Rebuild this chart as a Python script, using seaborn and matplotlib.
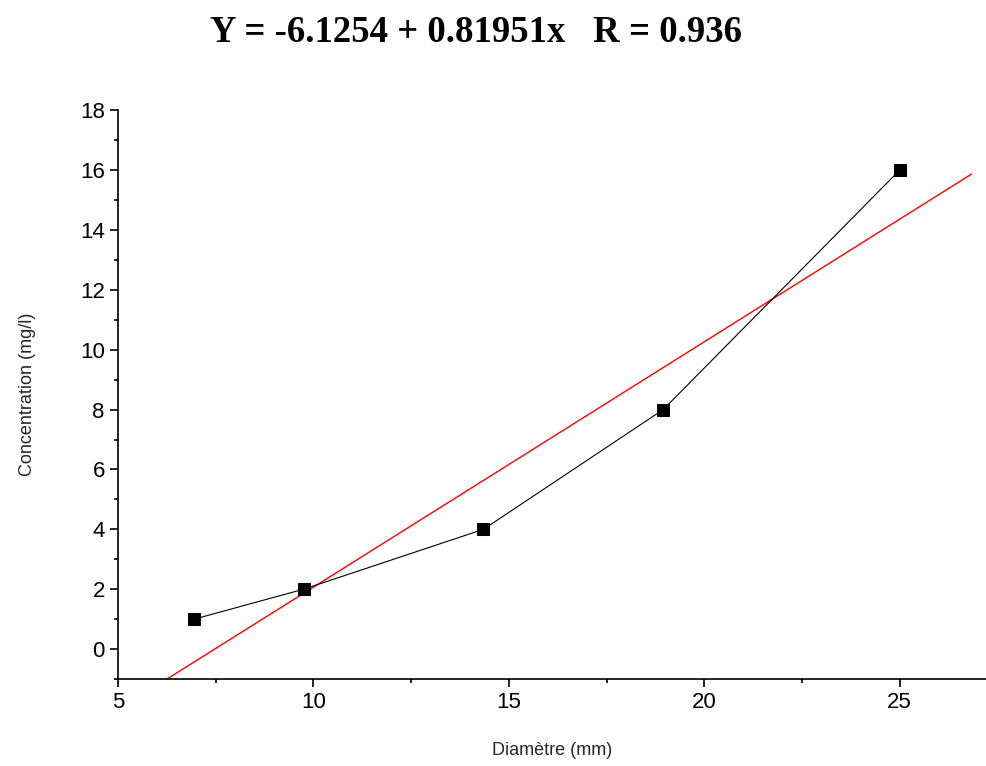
import matplotlib
matplotlib.use("Agg")
import matplotlib.pyplot as plt
import seaborn as sns
import numpy as np
from matplotlib.ticker import MultipleLocator

diam = [6.95, 9.75, 14.35, 18.95, 25.0]
conc = [1, 2, 4, 8, 16]
intercept = -6.1254
slope = 0.81951
fit_x = [6.25, 26.84]

sns.set_style("ticks")
plt.rcParams['font.family'] = ['Liberation Sans', 'DejaVu Sans']
fig = plt.figure(figsize=(9.87, 7.66), dpi=100)
ax = fig.add_axes([0.1196, 0.1136, 0.879, 0.7424])

fy = [intercept + slope * x for x in fit_x]
sns.lineplot(x=fit_x, y=fy, color="red", lw=1, ax=ax)
sns.lineplot(x=diam, y=conc, color="black", lw=0.8, marker="s", markersize=8,
             markeredgecolor="black", markerfacecolor="black", ax=ax)

ax.set_xlim(5, 27.2)
ax.set_ylim(-1, 18)
ax.xaxis.set_major_locator(MultipleLocator(5))
ax.xaxis.set_minor_locator(MultipleLocator(2.5))
ax.yaxis.set_major_locator(MultipleLocator(2))
ax.yaxis.set_minor_locator(MultipleLocator(1))
ax.tick_params(which="major", length=6, width=1.2, labelsize=16, direction="out", colors="black")
ax.tick_params(which="minor", length=3, width=1.2, direction="out", colors="black")
for s in ["top", "right"]:
    ax.spines[s].set_visible(False)
for s in ["left", "bottom"]:
    ax.spines[s].set_linewidth(1.2)
    ax.spines[s].set_color("black")
ax.set_xlabel("Diamètre (mm)", fontsize=13, labelpad=21)
ax.set_ylabel("Concentration (mg/l)", fontsize=13, labelpad=32)
fig.text(0.482, 0.957, "Y = -6.1254 + 0.81951x   R = 0.936", ha="center", va="center",
         fontsize=26.5, fontweight="bold", color="black", family=["Liberation Serif", "DejaVu Serif"])
fig.savefig("out.png", dpi=100)
